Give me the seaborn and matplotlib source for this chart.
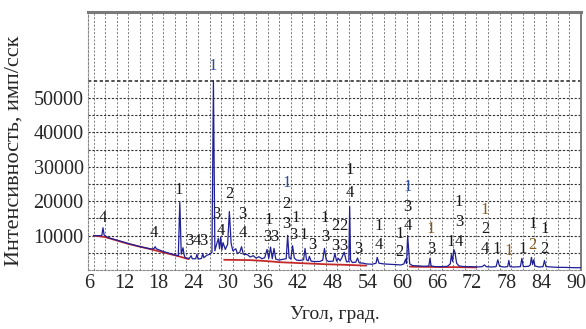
import numpy as np
import pandas as pd
import matplotlib
matplotlib.use("Agg")
import matplotlib.pyplot as plt
import matplotlib.transforms as mtransforms
import seaborn as sns

# ---- data ----
angle = [6.0, 7.4, 7.6, 7.8, 8.5, 10.0, 12.0, 14.0, 16.0, 16.4, 16.6, 16.8, 18.0, 20.0, 20.6,
         20.85, 21.1, 21.4, 21.6, 21.8, 22.5, 22.8, 23.0, 23.6, 23.8, 24.0, 24.6, 24.8, 25.0,
         25.5, 26.0, 26.4, 26.65, 26.9, 27.2, 27.5, 27.7, 27.9, 28.1, 28.3, 28.7, 29.1, 29.4,
         29.7, 30.0, 30.5, 30.8, 31.2, 31.5, 31.8, 32.5, 33.0, 33.5, 34.0, 34.5, 35.0, 35.5,
         35.9, 36.2, 36.5, 36.8, 37.1, 37.4, 38.0, 38.5, 39.2, 39.45, 39.7, 40.0, 40.3, 40.6,
         41.0, 41.5, 42.2, 42.45, 42.7, 43.0, 43.2, 43.5, 44.0, 45.0, 45.5, 45.8, 46.1, 46.5,
         47.3, 47.6, 47.9, 48.2, 48.5, 48.8, 49.2, 49.6, 50.0, 50.15, 50.3, 50.6, 51.2, 51.5,
         51.8, 52.5, 53.0, 54.0, 54.7, 54.9, 55.2, 56.0, 57.0, 58.0, 59.0, 59.5, 59.8, 59.95,
         60.15, 60.5, 61.0, 62.0, 63.0, 63.8, 64.0, 64.2, 65.0, 66.0, 67.0, 67.5, 67.7, 67.9,
         68.1, 68.3, 68.6, 69.0, 70.0, 71.0, 72.0, 73.0, 73.4, 73.7, 74.5, 75.4, 75.7, 76.0,
         76.8, 77.4, 77.6, 77.8, 78.5, 79.6, 79.85, 80.1, 81.0, 81.3, 81.5, 81.7, 81.9, 82.1,
         82.8, 83.5, 83.75, 84.0, 85.0, 86.0, 87.0, 88.0, 89.0, 90.0]
intensity = [10000, 10000, 12300, 10200, 9400, 8700, 7700, 6800, 6100, 6300, 6800, 6200, 5400, 4400, 4200,
             19800, 4600, 6500, 4400, 3500, 3400, 4200, 3300, 3300, 4600, 3200, 3400, 4800, 3600,
             4300, 4600, 5200, 55000, 5600, 7500, 9200, 6200, 9600, 5800, 8000, 6000, 7500, 17000,
             7800, 5600, 6200, 4800, 5200, 6800, 4600, 4500, 3800, 4200, 3500, 3900, 3300, 3600,
             6000, 3400, 6700, 3300, 6300, 3200, 2900, 3100, 3300, 10100, 3600, 3200, 7100, 3500,
             2900, 2800, 3000, 6300, 3000, 2700, 4000, 2600, 2500, 2500, 2900, 6300, 3000, 2500,
             2600, 4800, 2600, 3400, 2700, 3600, 5200, 2400, 2500, 18500, 3000, 2200, 2300, 3500,
             2100, 2000, 1800, 1700, 2000, 3700, 2000, 1800, 1700, 1600, 1500, 1800, 3200, 1900,
             10000, 1800, 1300, 1200, 1100, 1200, 3400, 1200, 1000, 1000, 1100, 1800, 4500, 2500,
             6000, 5200, 2000, 1200, 1000, 1000, 900, 1000, 1500, 1000, 900, 1000, 3000, 1100,
             900, 1000, 2800, 1000, 900, 1000, 3400, 1000, 1100, 1500, 3700, 1600, 3000, 1200,
             900, 1000, 2800, 1000, 900, 800, 800, 750, 700, 700]

bg_angle = [6.0, 8.0, 12.0, 16.0, 20.0, 22.4,
            28.5, 33.0, 36.0, 38.0, 42.0, 46.0, 50.0, 53.0,
            60.5, 66.0, 72.0]
bg_intensity = [10000, 9600, 7600, 6000, 4300, 3200,
                3000, 2900, 2600, 2300, 2000, 1700, 1500, 1300,
                1000, 900, 800]
bg_segment = [1, 1, 1, 1, 1, 1,
              2, 2, 2, 2, 2, 2, 2, 2,
              3, 3, 3]

# phase labels: text, angle, intensity of label centre, colour key
lab_text = ["4", "4", "1", "3", "4", "3", "1", "3", "4", "2", "3", "4",
            "1", "3", "3", "1", "2", "3", "1", "3", "1", "3", "1", "3",
            "2", "2", "3", "3", "1", "4", "3", "1", "4", "1", "2",
            "1", "3", "4", "1", "3", "1", "3", "1", "4",
            "1", "2", "4", "1", "1", "1", "1", "2", "1", "2"]
lab_angle = [7.6, 16.3, 20.7, 22.5, 23.7, 24.9, 26.5, 27.1, 27.9, 29.4, 31.6, 31.7,
             36.1, 35.9, 37.1, 39.3, 39.3, 39.3, 40.8, 40.5, 42.2, 43.7, 45.9, 45.9,
             47.6, 49.0, 47.6, 49.0, 50.2, 50.2, 51.6, 55.1, 55.1, 58.8, 58.8,
             60.1, 60.1, 60.1, 64.2, 64.2, 69.0, 69.0, 67.6, 69.0,
             73.5, 73.5, 73.5, 75.5, 77.5, 80.0, 81.7, 81.7, 83.8, 83.8]
lab_y = [15000, 10700, 23200, 8400, 8400, 8400, 59200, 16400, 11500, 22000, 16400, 10700,
         14650, 9600, 9600, 25200, 19300, 13500, 15200, 10100, 10300, 7400, 15200, 9600,
         12700, 12700, 6900, 6900, 29000, 22400, 6200, 12700, 7150, 10600, 5400,
         24200, 18200, 12700, 12000, 6200, 19800, 14000, 8100, 8100,
         17600, 12000, 6200, 6200, 5500, 6200, 13300, 7400, 12000, 6200]
lab_col = ["k", "k", "k", "k", "k", "k", "b", "k", "k", "k", "k", "k",
           "k", "k", "k", "b", "k", "k", "k", "k", "k", "k", "k", "k",
           "k", "k", "k", "k", "k", "k", "k", "k", "k", "k", "k",
           "b", "k", "k", "o", "k", "k", "k", "k", "k",
           "o", "k", "k", "k", "o", "k", "k", "o", "k", "k"]

x_ticks = [6, 12, 18, 24, 30, 36, 42, 48, 54, 60, 66, 72, 78, 84, 90]
y_ticks = [10000, 20000, 30000, 40000, 50000]

# ---- styling ----
sns.set_style("white")
plt.rcParams["font.family"] = ["Liberation Serif", "DejaVu Serif"]

fig = plt.figure(figsize=(5.86, 3.29), dpi=100)
ax = fig.add_axes([0.150, 0.179, 0.841, 0.785])

# grid
for gx in range(6, 90, 2):
    ax.axvline(gx, color="#7a7a7a", lw=0.7, ls=(0, (2, 1.8)), zorder=0)
for gy in range(5000, 55001, 5000):
    ax.axhline(gy, color="#333333", lw=0.8 if gy != 55000 else 1.2,
               ls=(0, (2, 1.5)), zorder=0)

df_sig = pd.DataFrame({"angle": angle, "intensity": intensity})
sns.lineplot(data=df_sig, x="angle", y="intensity", estimator=None, sort=False,
             color="#1f1f96", lw=0.9, ax=ax, zorder=3)

df_bg = pd.DataFrame({"angle": bg_angle, "intensity": bg_intensity, "seg": bg_segment})
for s, sub in df_bg.groupby("seg"):
    sns.lineplot(data=sub, x="angle", y="intensity", estimator=None, sort=False,
                 color="#c42a2a", lw=1.3, ax=ax, zorder=2)

colmap = {"k": "#1a1a1a", "b": "#2a4a9a", "o": "#8a5a1a"}
for t, xa, ya, c in zip(lab_text, lab_angle, lab_y, lab_col):
    ax.text(xa, ya, t, ha="center", va="center", fontsize=12, color=colmap[c], zorder=4)

ax.set_xlim(5, 90)
ax.set_ylim(0, 75000)
ax.set_xticks(x_ticks)
ax.set_xticklabels([str(v) for v in x_ticks])
ax.set_yticks(y_ticks)
ax.set_yticklabels([str(v) for v in y_ticks])
ax.tick_params(axis="both", length=0, labelsize=14.5, pad=3)
shift = mtransforms.ScaledTranslation(-4.5 / 100, 0, fig.dpi_scale_trans)
for lbl in ax.get_xticklabels():
    lbl.set_transform(lbl.get_transform() + shift)
ax.set_xlabel("Угол, град.", fontsize=14, labelpad=9)
ax.set_ylabel("Интенсивность, имп/сск", fontsize=16)
ax.yaxis.set_label_coords(-0.13, 0.46)

for side in ["top", "right"]:
    ax.spines[side].set_color("#7a7a7a")
ax.spines["top"].set_linewidth(2.2)
ax.spines["right"].set_linewidth(1.4)
for side in ["left", "bottom"]:
    ax.spines[side].set_color("#888888")
    ax.spines[side].set_linewidth(0.8)
    ax.spines[side].set_linestyle((0, (2, 1.5)))

fig.savefig("out.png", dpi=100)
